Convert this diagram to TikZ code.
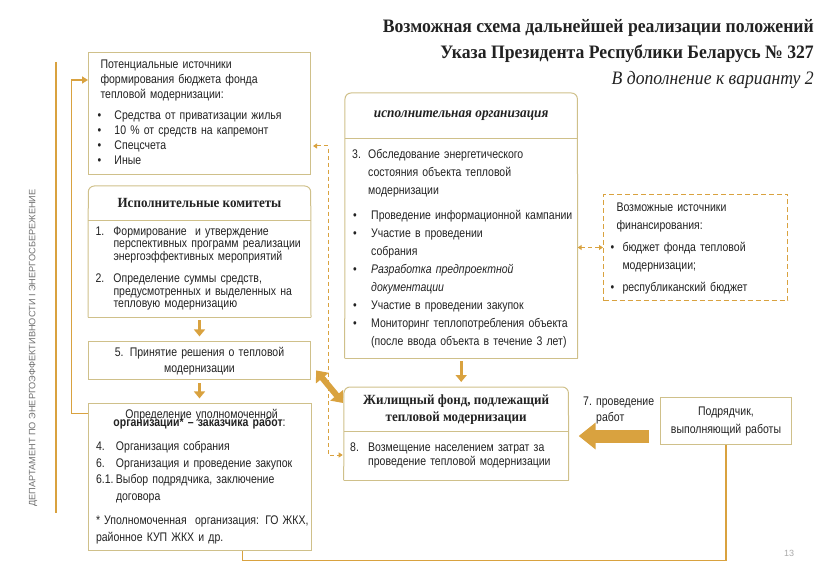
\documentclass[tikz,border=0pt]{standalone}
\usepackage{fontspec}
\setmainfont{Liberation Sans}[FakeStretch=0.84]
\newfontfamily\headfont{Liberation Serif}[FakeStretch=0.93]
\newfontfamily\sidefont{Liberation Sans}
\definecolor{Frame}{HTML}{CFC08A}
\definecolor{Gold}{HTML}{D9A23F}
\definecolor{Ink}{HTML}{222222}
\definecolor{Muted}{HTML}{707070}
\usetikzlibrary{arrows.meta,positioning}
\newcommand{\lab}[2][18pt]{\makebox[#1][l]{#2}}
\newcommand{\ind}[1][18pt]{\hspace*{#1}}
\newcommand{\bul}{\hspace*{1pt}\textbullet}
\newcommand{\body}[1]{\fontsize{12.5}{#1}\selectfont}

\begin{document}
\begin{tikzpicture}[
    x=1pt, y=-1pt,
    node distance=11pt,
    panel/.style={
      draw=Frame, line width=1pt, fill=white,
      text=Ink, align=left, inner ysep=0pt
    },
    bare/.style={panel, draw=none, fill=none},
    head/.style={
      font=\headfont\bfseries\fontsize{14}{17}\selectfont,
      text=Ink, align=center, inner sep=0pt
    },
    frame/.style={draw=Frame, line width=1pt},
    flow/.style={-{Triangle[width=11pt,length=7pt]}, line width=3pt, Gold,
      shorten <=3pt, shorten >=5pt},
    link/.style={-{Triangle[width=7pt,length=6pt]}, line width=1.5pt, Gold},
    wire/.style={line width=1.5pt, Gold},
    hint/.style={{Triangle[width=5pt,length=4pt]}-{Triangle[width=5pt,length=4pt]},
      line width=1pt, Gold, dash pattern=on 4pt off 3pt},
    both/.style={{Triangle[width=16pt,length=10pt]}-{Triangle[width=16pt,length=10pt]},
      line width=6pt, Gold},
    push/.style={-{Triangle[width=26pt,length=17pt]}, line width=13pt, Gold}
  ]
    \useasboundingbox (0,0) rectangle (840,577);

    % title
    \node[anchor=north east, align=right, inner sep=0pt, text=Ink,
      font=\headfont\fontsize{19}{26}\selectfont] (title) at (814,19)
      {\textbf{Возможная схема дальнейшей реализации положений}\\
       \textbf{Указа Президента Республики Беларусь № 327}\\
       \textit{В дополнение к варианту 2}};

    % left column
    \node[panel, anchor=north west, text width=198pt, inner xsep=12pt,
      minimum height=122pt, font=\body{15}] (src) at (88,52) {%
      \begin{tabular}[t]{@{}l@{}}
      Потенциальные источники\\
      формирования бюджета фонда\\
      тепловой модернизации:\\[6pt]
      \lab[14pt]{\hspace*{-3pt}\textbullet}Средства от приватизации жилья\\
      \lab[14pt]{\hspace*{-3pt}\textbullet}10 \% от средств на капремонт\\
      \lab[14pt]{\hspace*{-3pt}\textbullet}Спецсчета\\
      \lab[14pt]{\hspace*{-3pt}\textbullet}Иные
      \end{tabular}};
    \node[head, below=11pt of src, minimum width=222pt, minimum height=34pt] (comh)
      {Исполнительные комитеты};
    \node[bare, below=0pt of comh, text width=208pt, inner xsep=7pt,
      minimum height=96pt, font=\body{12.5}] (comb) {%
      \begin{tabular}[t]{@{}l@{}}
      \lab{1.}Формирование~\ и утверждение\\
      \ind перспективных программ реализации\\
      \ind энергоэффективных мероприятий\\[9.5pt]
      \lab{2.}Определение суммы средств,\\
      \ind предусмотренных и выделенных на\\
      \ind тепловую модернизацию
      \end{tabular}};
    \node[panel, below=24pt of comb, text width=206pt, inner xsep=8pt,
      minimum height=38pt, align=center, font=\body{16}] (dec)
      {5. Принятие решения о тепловой\\модернизации};
    \node[panel, below=23pt of dec, text width=207pt, inner xsep=8pt,
      minimum height=147pt, font=\body{16.5}] (cust) {%
      \vspace*{-8pt}
      {\centering Определение уполномоченной\\
       \textbf{организации* – заказчика работ}:\par}
      \vspace{7.5pt}\noindent
      \begin{tabular}[t]{@{}l@{}}
      \lab[20pt]{4.}Организация собрания\\
      \lab[20pt]{6.}Организация и проведение закупок\\
      \lab[20pt]{6.1.}Выбор подрядчика, заключение\\
      \ind[20pt]договора\\[8pt]
      {*} Уполномоченная~\ организация: ГО ЖКХ,\\
      районное КУП ЖКХ и др.
      \end{tabular}};

    % middle column
    \node[head, font=\headfont\bfseries\itshape\fontsize{14.3}{17}\selectfont,
      anchor=north west, minimum width=232pt, minimum height=45pt] (orgh) at (345,93)
      {исполнительная организация};
    \node[bare, below=0pt of orgh, text width=218pt, inner xsep=7pt,
      minimum height=219pt, font=\body{18}] (orgb) {%
      \begin{tabular}[t]{@{}l@{}}
      \lab[16pt]{3.}Обследование энергетического\\
      \ind[16pt]состояния объекта тепловой\\
      \ind[16pt]модернизации\\[7pt]
      \lab[19pt]{\bul}Проведение информационной кампании\\
      \lab[19pt]{\bul}Участие в проведении\\
      \ind[19pt]собрания\\
      \lab[19pt]{\bul}\textit{Разработка предпроектной}\\
      \ind[19pt]\textit{документации}\\
      \lab[19pt]{\bul}Участие в проведении закупок\\
      \lab[19pt]{\bul}Мониторинг теплопотребления объекта\\
      \ind[19pt](после ввода объекта в течение 3 лет)
      \end{tabular}};
    \node[head, anchor=north west, minimum width=224pt, minimum height=44pt] (fundh) at (344,387)
      {Жилищный фонд, подлежащий\\тепловой модернизации};
    \node[bare, below=0pt of fundh, text width=212pt, inner xsep=6pt,
      minimum height=48pt, font=\body{14}] (fundb) {%
      \begin{tabular}[t]{@{}l@{}}
      \lab{8.}Возмещение населением затрат за\\
      \ind проведение тепловой модернизации
      \end{tabular}};

    % right column
    \node[panel, draw=Gold, dash pattern=on 5pt off 3pt, anchor=north west,
      text width=158pt, inner xsep=13pt, minimum height=106pt, font=\body{18.5}] (fin) at (603,194) {%
      \begin{tabular}[t]{@{}l@{}}
      Возможные источники\\
      финансирования:\\[3pt]
      \lab[6pt]{\hspace*{-6pt}\textbullet}бюджет фонда тепловой\\
      \ind[6pt]модернизации;\\[3pt]
      \lab[6pt]{\hspace*{-6pt}\textbullet}республиканский бюджет
      \end{tabular}};
    \node[panel, anchor=north west, text width=131pt, inner xsep=0pt,
      minimum height=47pt, align=center, font=\body{18}] (ctr) at (660,397)
      {Подрядчик,\\выполняющий работы};
    \node[anchor=north west, text width=75pt, inner sep=0pt, align=left,
      text=Ink, font=\body{16}] (works) at (583,394) {%
      \begin{tabular}[t]{@{}l@{}}
      \lab[13pt]{7.}проведение\\
      \ind[13pt]работ
      \end{tabular}};

    % side labels
    \node[rotate=90, text=Muted, font=\sidefont\fontsize{9.2}{11}\selectfont] (dept) at (33,348)
      {ДЕПАРТАМЕНТ ПО ЭНЕРГОЭФФЕКТИВНОСТИ I ЭНЕРГОСБЕРЕЖЕНИЕ};
    \node[text=Muted!60, font=\sidefont\fontsize{9}{10}\selectfont] (page) at (789,553) {13};

    % frames with rounded tops
    \draw[frame, rounded corners=6pt] (comb.south west) -- (comh.north west)
      -- (comh.north east) -- (comb.south east);
    \draw[frame] (comb.south west) -- (comb.south east)
      (comh.south west) -- (comh.south east);
    \draw[frame, rounded corners=6pt] (orgb.south west) -- (orgh.north west)
      -- (orgh.north east) -- (orgb.south east);
    \draw[frame] (orgb.south west) -- (orgb.south east)
      (orgh.south west) -- (orgh.south east);
    \draw[frame, rounded corners=6pt] (fundb.south west) -- (fundh.north west)
      -- (fundh.north east) -- (fundb.south east);
    \draw[frame] (fundb.south west) -- (fundb.south east)
      (fundh.south west) -- (fundh.south east);

    % connectors
    \draw[flow] (comb) -- (dec);
    \draw[flow] (dec) -- (cust);
    \draw[flow] (orgb.south) -- (orgb.south |- fundh.north);
    \draw[both] ([shift={(5,-10)}]dec.south east) -- ([shift={(-1,16)}]fundh.north west);
    \draw[push, shorten <=11pt, shorten >=10pt] ([yshift=-15pt]ctr.west)
      -- ([yshift=-15pt]ctr.west -| fundb.east);
    \coordinate (tapT) at (328,146);
    \coordinate (tapB) at (328,455);
    \draw[hint, shorten <=2pt, shorten >=1pt] (src.east |- tapT) -- (tapT) -- (tapB)
      -- (tapB -| fundb.west);
    \draw[hint] (fin.west -| orgb.east) -- (fin.west);
    \draw[link] ([yshift=-10pt]cust.north west) -- ++(-16,0)
      |- ([yshift=-28pt]src.north west);
    \draw[wire] (56,62) -- (56,513);
    \draw[wire] (ctr.south) |- ([xshift=155pt,yshift=-9pt]cust.south west)
      -- ([xshift=155pt]cust.south west);
\end{tikzpicture}
\end{document}
